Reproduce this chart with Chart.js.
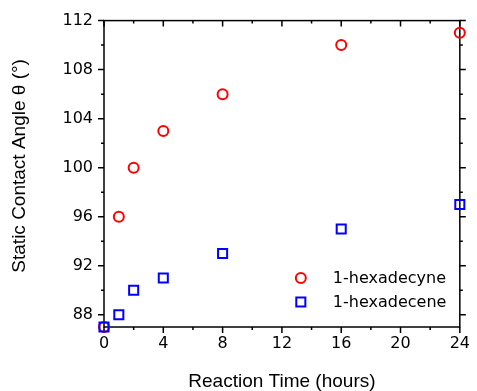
<!DOCTYPE html>
<html>
<head>
<meta charset="utf-8">
<script src="https://cdn.jsdelivr.net/npm/chart.js@4"></script>
<style>
  body { margin: 0; background: #fff; }
</style>
</head>
<body>
<canvas id="myChart" width="477" height="391"></canvas>
<script>
// data
const hours = [0, 1, 2, 4, 8, 16, 24];
const hexadecyne = [87, 96, 100, 103, 106, 110, 111];
const hexadecene = [87, 88, 90, 91, 93, 95, 97];
const xTicks = [0, 4, 8, 12, 16, 20, 24];
const yTicks = [88, 92, 96, 100, 104, 108, 112];

function points(ys) {
    return hours.map((h, i) => ({ x: h, y: ys[i] }));
}

// box round the plot + major/minor tick marks
const frame = {
    id: 'frame',
    beforeDatasetsDraw(chart) {
        const ctx = chart.ctx, a = chart.chartArea;
        const sx = chart.scales.x, sy = chart.scales.y;
        ctx.save();
        ctx.strokeStyle = '#000';
        ctx.lineWidth = 1.5;
        ctx.strokeRect(a.left, a.top, a.right - a.left, a.bottom - a.top);
        ctx.beginPath();
        for (let v = xTicks[0]; v <= xTicks[xTicks.length - 1]; v += 2) {
            const px = sx.getPixelForValue(v);
            const len = xTicks.includes(v) ? 6 : 3;
            ctx.moveTo(px, a.bottom); ctx.lineTo(px, a.bottom + len);
            ctx.moveTo(px, a.top); ctx.lineTo(px, a.top + len);
        }
        for (let v = yTicks[0]; v <= yTicks[yTicks.length - 1]; v += 2) {
            const py = sy.getPixelForValue(v);
            const len = yTicks.includes(v) ? 6 : 3;
            ctx.moveTo(a.left, py); ctx.lineTo(a.left - len, py);
            ctx.moveTo(a.right, py); ctx.lineTo(a.right + len, py);
        }
        ctx.stroke();
        ctx.restore();
    }
};

// legend inside the plot, lower right
const insideLegend = {
    id: 'insideLegend',
    afterDraw(chart) {
        const ctx = chart.ctx, a = chart.chartArea;
        ctx.save();
        ctx.font = '16px "DejaVu Sans"';
        ctx.textBaseline = 'middle';
        chart.data.datasets.forEach((ds, i) => {
            const x = a.right - 159;
            const y = a.bottom - 49 + i * 24;
            ctx.strokeStyle = ds.borderColor;
            ctx.lineWidth = ds.borderWidth;
            ctx.beginPath();
            if (ds.pointStyle === 'rect') {
                const s = Math.SQRT1_2 * ds.pointRadius;
                ctx.rect(x - s, y - s, 2 * s, 2 * s);
            } else {
                ctx.arc(x, y, ds.pointRadius, 0, Math.PI * 2);
            }
            ctx.stroke();
            ctx.fillStyle = '#000';
            ctx.fillText(ds.label, x + 32, y + 1);
        });
        ctx.restore();
    }
};

const ctx = document.getElementById('myChart');

new Chart(ctx, {
    type: 'scatter',
    data: {
        datasets: [{
            label: '1-hexadecyne',
            data: points(hexadecyne),
            pointStyle: 'circle',
            pointRadius: 5,
            borderWidth: 2,
            borderColor: '#ff0000',
            backgroundColor: 'rgba(0,0,0,0)',
            clip: false,
            order: 2
        }, {
            label: '1-hexadecene',
            data: points(hexadecene),
            pointStyle: 'rect',
            pointRadius: 6.4,
            borderWidth: 2,
            borderColor: '#0000ff',
            backgroundColor: 'rgba(0,0,0,0)',
            clip: false,
            order: 1
        }]
    },
    options: {
        responsive: false,
        devicePixelRatio: 1,
        animation: false,
        layout: { padding: { top: 20, right: 11, left: 0, bottom: 0 } },
        plugins: {
            legend: { display: false },
            tooltip: { enabled: false }
        },
        scales: {
            x: {
                type: 'linear',
                min: 0,
                max: 24,
                afterBuildTicks: s => { s.ticks = xTicks.map(v => ({ value: v })); },
                afterFit: s => { s.height = 64; },
                grid: { display: false, drawTicks: false },
                border: { display: false },
                ticks: {
                    color: '#000',
                    padding: 7,
                    maxRotation: 0,
                    font: { family: 'DejaVu Sans', size: 16 }
                },
                title: {
                    display: true,
                    text: 'Reaction Time (hours)',
                    color: '#000',
                    padding: { top: 0, bottom: 0 },
                    font: { family: 'Liberation Sans', size: 19, lineHeight: 1 }
                }
            },
            y: {
                min: 87,
                max: 112,
                afterBuildTicks: s => { s.ticks = yTicks.map(v => ({ value: v })); },
                afterFit: s => { s.width = 104; },
                grid: { display: false, drawTicks: false },
                border: { display: false },
                ticks: {
                    color: '#000',
                    padding: 11,
                    font: { family: 'DejaVu Sans', size: 16 }
                },
                title: {
                    display: true,
                    text: '   Static Contact Angle θ (°)',
                    color: '#000',
                    padding: { top: 10, bottom: 0 },
                    font: { family: 'Liberation Sans', size: 19, lineHeight: 1 }
                }
            }
        }
    },
    plugins: [frame, insideLegend]
});
</script>
</body>
</html>
